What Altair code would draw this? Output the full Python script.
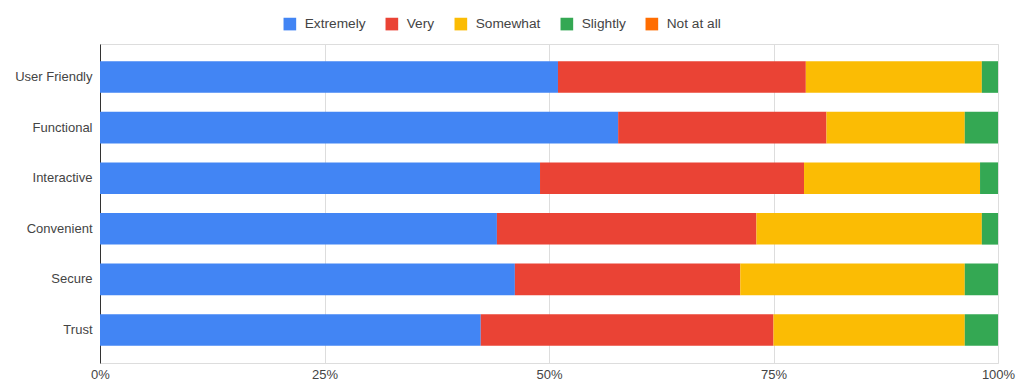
import altair as alt
import pandas as pd

categories = ["User Friendly", "Functional", "Interactive", "Convenient", "Secure", "Trust"]
series = ["Extremely", "Very", "Somewhat", "Slightly", "Not at all"]
colors = ["#4285F4", "#EA4335", "#FBBC04", "#34A853", "#FF6D01"]

extremely = [51.0, 57.7, 49.0, 44.2, 46.2, 42.4]
very = [27.6, 23.2, 29.4, 28.9, 25.1, 32.6]
somewhat = [19.6, 15.4, 19.6, 25.1, 25.0, 21.3]
slightly = [1.8, 3.7, 2.0, 1.8, 3.7, 3.7]
not_at_all = [0, 0, 0, 0, 0, 0]

x_ticks = [0, 0.25, 0.5, 0.75, 1.0]

values = [extremely, very, somewhat, slightly, not_at_all]
rows = []
for si, (s, vals) in enumerate(zip(series, values)):
    for c, v in zip(categories, vals):
        rows.append({"category": c, "series": s, "order": si, "value": v})
df = pd.DataFrame(rows)

FONT = "Liberation Sans"

chart = alt.Chart(df).mark_bar().encode(
    y=alt.Y("category:N", sort=categories, title=None,
            scale=alt.Scale(paddingInner=0.375, paddingOuter=0.34),
            axis=alt.Axis(ticks=False, labelPadding=8, domainColor="#333333",
                          labelColor="#444444", labelFontSize=13, labelFont=FONT,
                          grid=False)),
    x=alt.X("sum(value):Q", stack="normalize", title=None,
            scale=alt.Scale(domain=[0, 1], nice=False),
            axis=alt.Axis(values=x_ticks, format=".0%", domain=False, ticks=False,
                          labelPadding=5, labelColor="#444444", labelFontSize=13,
                          labelFont=FONT, gridColor="#dddddd", labelFlush=False)),
    color=alt.Color("series:N", sort=series,
                    scale=alt.Scale(domain=series, range=colors),
                    legend=alt.Legend(title=None, orient="none", direction="horizontal",
                                      legendX=183, legendY=-27, columns=5,
                                      symbolType="square", symbolSize=160,
                                      symbolStrokeWidth=0, symbolOpacity=1,
                                      labelFont=FONT, labelFontSize=13.7,
                                      labelColor="#444444", labelOffset=8,
                                      columnPadding=19, padding=0)),
    order=alt.Order("order:Q"),
).properties(
    width=898, height=319,
    autosize=alt.AutoSizeParams(type="none"),
    padding={"left": 100, "top": 44, "right": 19, "bottom": 19},
).configure_view(stroke=None).configure(background="white")

chart.save("out.html", embed_options={"renderer": "svg", "actions": False})
